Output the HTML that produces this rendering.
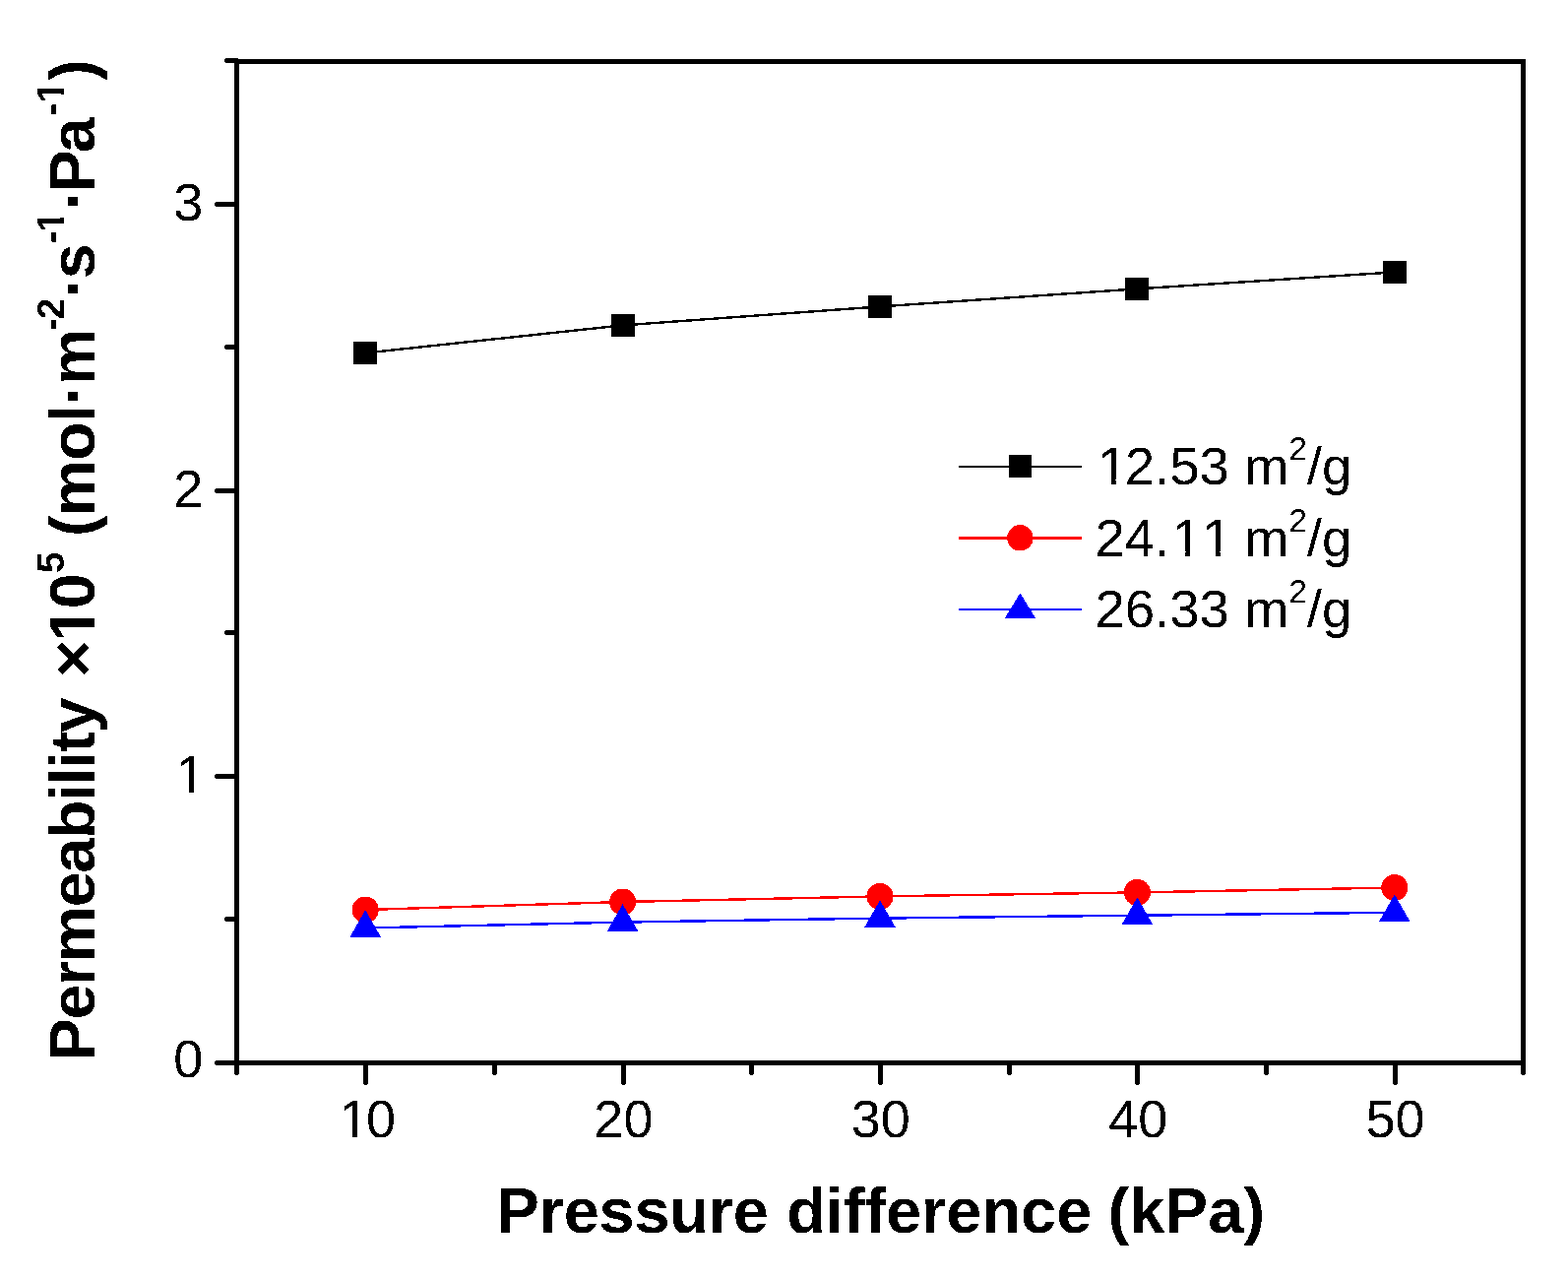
<!DOCTYPE html><html><head><meta charset="utf-8"><title>Permeability vs pressure difference</title>
<style>html,body{margin:0;padding:0;background:#fff;width:1593px;height:1299px;overflow:hidden}svg{display:block}text{font-family:"Liberation Sans",Arial,sans-serif;font-kerning:none;fill:#000}</style></head><body>
<svg width="1593" height="1299" viewBox="0 0 1593 1299">
<defs><clipPath id="c0"><path d="M-3000 -3000H3000V3000H-3000ZM5.10 -4.33H16.01V2.50H5.10ZM20.89 -4.33H31.38V2.50H20.89Z" clip-rule="evenodd"/></clipPath><clipPath id="c1"><path d="M-3000 -3000H3000V3000H-3000ZM5.10 -4.33H16.01V2.50H5.10ZM20.89 -4.33H31.38V2.50H20.89Z" clip-rule="evenodd"/></clipPath><clipPath id="c2"><path d="M-3000 -3000H3000V3000H-3000ZM5.16 -4.37H16.16V2.50H5.16ZM21.08 -4.37H31.66V2.50H21.08Z" clip-rule="evenodd"/></clipPath><clipPath id="c3"><path d="M-3000 -3000H3000V3000H-3000ZM80.92 -4.37H91.92V2.50H80.92ZM96.84 -4.37H107.42V2.50H96.84ZM111.23 -4.37H122.23V2.50H111.23ZM127.15 -4.37H137.73V2.50H127.15Z" clip-rule="evenodd"/></clipPath><clipPath id="c4"><path d="M-3000 -3000H3000V3000H-3000ZM2.56 -6.88H15.00V2.50H2.56ZM23.95 -6.88H35.58V2.50H23.95Z" clip-rule="evenodd"/></clipPath><clipPath id="c5"><path d="M-3000 -3000H3000V3000H-3000ZM0.93 -4.23H8.94V2.50H0.93ZM14.32 -4.23H21.84V2.50H14.32Z" clip-rule="evenodd"/></clipPath><clipPath id="c6"><path d="M-3000 -3000H3000V3000H-3000ZM0.93 -4.23H8.94V2.50H0.93ZM14.32 -4.23H21.84V2.50H14.32Z" clip-rule="evenodd"/></clipPath><filter id="bin" x="0" y="0" width="1593" height="1299" filterUnits="userSpaceOnUse" color-interpolation-filters="sRGB"><feComponentTransfer><feFuncA type="discrete" tableValues="0 1"/></feComponentTransfer></filter></defs>
<rect width="1593" height="1299" fill="#fff"/>
<path d="M220.6 1079.5H240 M220.6 788.5H240 M220.6 498.5H240 M220.6 207.5H240 M230.6 933.5H240 M230.6 642.5H240 M230.6 352.5H240 M230.6 61.5H240 M371.5 1080V1099.6 M633.5 1080V1099.6 M894.5 1080V1099.6 M1155.5 1080V1099.6 M1417.5 1080V1099.6 M502.5 1080V1089.6 M763.5 1080V1089.6 M1025.5 1080V1089.6 M1286.5 1080V1089.6 M240.5 1080V1089.6 M1547.5 1080V1089.6" stroke="#000" stroke-width="5" stroke-linecap="round" fill="none" shape-rendering="crispEdges"/>
<rect x="240.5" y="62.5" width="1307" height="1017" fill="none" stroke="#000" stroke-width="5" shape-rendering="crispEdges"/>
<path d="M371.20 358.50 L632.60 330.40 L894.00 311.40 L1155.40 293.40 L1416.80 276.40" stroke="#000" stroke-width="2.4" fill="none" shape-rendering="crispEdges"/>
<path d="M371.20 924.00 L632.60 916.00 L894.00 910.40 L1155.40 906.40 L1416.80 901.50" stroke="#f00" stroke-width="2.4" fill="none" shape-rendering="crispEdges"/>
<path d="M371.20 942.50 L632.60 936.60 L894.00 932.60 L1155.40 929.70 L1416.80 926.80" stroke="#00f" stroke-width="2.4" fill="none" shape-rendering="crispEdges"/>
<rect x="359.20" y="347.00" width="24" height="23" fill="#000" shape-rendering="crispEdges"/>
<rect x="620.60" y="318.90" width="24" height="23" fill="#000" shape-rendering="crispEdges"/>
<rect x="882.00" y="299.90" width="24" height="23" fill="#000" shape-rendering="crispEdges"/>
<rect x="1143.40" y="281.90" width="24" height="23" fill="#000" shape-rendering="crispEdges"/>
<rect x="1404.80" y="264.90" width="24" height="23" fill="#000" shape-rendering="crispEdges"/>
<circle cx="371.20" cy="924.00" r="13.5" fill="#f00" shape-rendering="crispEdges"/>
<circle cx="632.60" cy="916.00" r="13.5" fill="#f00" shape-rendering="crispEdges"/>
<circle cx="894.00" cy="910.40" r="13.5" fill="#f00" shape-rendering="crispEdges"/>
<circle cx="1155.40" cy="906.40" r="13.5" fill="#f00" shape-rendering="crispEdges"/>
<circle cx="1416.80" cy="901.50" r="13.5" fill="#f00" shape-rendering="crispEdges"/>
<polygon points="371.20,924.17 386.95,951.67 355.45,951.67" fill="#00f" shape-rendering="crispEdges"/>
<polygon points="632.60,918.27 648.35,945.77 616.85,945.77" fill="#00f" shape-rendering="crispEdges"/>
<polygon points="894.00,914.27 909.75,941.77 878.25,941.77" fill="#00f" shape-rendering="crispEdges"/>
<polygon points="1155.40,911.37 1171.15,938.87 1139.65,938.87" fill="#00f" shape-rendering="crispEdges"/>
<polygon points="1416.80,908.47 1432.55,935.97 1401.05,935.97" fill="#00f" shape-rendering="crispEdges"/>
<path d="M974 474H1099" stroke="#000" stroke-width="2" shape-rendering="crispEdges"/>
<path d="M974 546.5H1099" stroke="#f00" stroke-width="3" shape-rendering="crispEdges"/>
<path d="M974 619H1099" stroke="#00f" stroke-width="2" shape-rendering="crispEdges"/>
<rect x="1025" y="462" width="23" height="23" fill="#000" shape-rendering="crispEdges"/>
<circle cx="1036.40" cy="546.30" r="13.2" fill="#f00" shape-rendering="crispEdges"/>
<polygon points="1036.4,602.4 1052,627.8 1020.8,627.8" fill="#00f" shape-rendering="crispEdges"/>
<g filter="url(#bin)">
<g transform="translate(176.27 1094.10)"><text x="0" y="0" font-size="54">0</text></g>
<g transform="translate(176.27 804.80)"><text x="0" y="0" dx="2.48" font-size="54" clip-path="url(#c0)">1</text></g>
<g transform="translate(176.27 514.80)"><text x="0" y="0" font-size="54">2</text></g>
<g transform="translate(176.27 223.80)"><text x="0" y="0" font-size="54">3</text></g>
<g transform="translate(341.97 1155.00)"><text x="0" y="0" dx="2.48 -2.48" font-size="54" clip-path="url(#c1)">10</text></g>
<g transform="translate(603.37 1155.00)"><text x="0" y="0" font-size="54">20</text></g>
<g transform="translate(864.77 1155.00)"><text x="0" y="0" font-size="54">30</text></g>
<g transform="translate(1126.17 1155.00)"><text x="0" y="0" font-size="54">40</text></g>
<g transform="translate(1387.57 1155.00)"><text x="0" y="0" font-size="54">50</text></g>
<g transform="translate(1112.50 491.80)"><text x="0" y="0" dx="2.51 -2.51 0 0 0 0 0" font-size="54.5" clip-path="url(#c2)">12.53 m</text></g>
<g transform="translate(1309.42 467.20)"><text x="0" y="0" font-size="33">2</text></g>
<g transform="translate(1327.78 491.80)"><text x="0" y="0" font-size="54.5">/g</text></g>
<g transform="translate(1112.50 564.90)"><text x="0" y="0" dx="0 0 0 2.51 0 -2.51 0" font-size="54.5" clip-path="url(#c3)">24.11 m</text></g>
<g transform="translate(1309.42 540.30)"><text x="0" y="0" font-size="33">2</text></g>
<g transform="translate(1327.78 564.90)"><text x="0" y="0" font-size="54.5">/g</text></g>
<g transform="translate(1112.50 636.80)"><text x="0" y="0" font-size="54.5">26.33 m</text></g>
<g transform="translate(1309.42 612.20)"><text x="0" y="0" font-size="33">2</text></g>
<g transform="translate(1327.78 636.80)"><text x="0" y="0" font-size="54.5">/g</text></g>
<g transform="translate(504.55 1252.00)"><text x="0" y="0" font-size="65" font-weight="bold" textLength="276.47" lengthAdjust="spacing">Pressure</text></g>
<g transform="translate(799.23 1252.00)"><text x="0" y="0" font-size="65" font-weight="bold" textLength="310.09" lengthAdjust="spacing">difference</text></g>
<g transform="translate(1125.56 1252.00)"><text x="0" y="0" font-size="65" font-weight="bold" textLength="159.57" lengthAdjust="spacing">(kPa)</text></g>
<g transform="translate(96.00 1077.21) rotate(-90)"><text x="0" y="0" font-size="64.5" font-weight="bold" textLength="368.96" lengthAdjust="spacing">Permeability</text></g>
<g transform="translate(96.00 687.71) rotate(-90)"><text x="0" y="0" font-size="64.5" font-weight="bold">×</text></g>
<g transform="translate(96.00 652.01) rotate(-90)"><text x="0" y="0" font-size="64.5" font-weight="bold" textLength="69.75" lengthAdjust="spacing" clip-path="url(#c4)">10</text></g>
<g transform="translate(65.00 581.88) rotate(-90)"><text x="0" y="0" font-size="38.5" font-weight="bold" textLength="20.96" lengthAdjust="spacing">5</text></g>
<g transform="translate(96.00 545.01) rotate(-90)"><text x="0" y="0" font-size="64.5" font-weight="bold" textLength="211.31" lengthAdjust="spacing">(mol·m</text></g>
<g transform="translate(65.00 336.10) rotate(-90)"><text x="0" y="0" font-size="38.5" font-weight="bold">-</text></g>
<g transform="translate(65.00 324.33) rotate(-90)"><text x="0" y="0" font-size="38.5" font-weight="bold">2</text></g>
<g transform="translate(96.00 302.14) rotate(-90)"><text x="0" y="0" font-size="64.5" font-weight="bold" textLength="54.79" lengthAdjust="spacing">·s</text></g>
<g transform="translate(65.00 247.30) rotate(-90)"><text x="0" y="0" font-size="38.5" font-weight="bold">-</text></g>
<g transform="translate(65.00 235.63) rotate(-90)"><text x="0" y="0" font-size="38.5" font-weight="bold" clip-path="url(#c5)">1</text></g>
<g transform="translate(96.00 213.44) rotate(-90)"><text x="0" y="0" font-size="64.5" font-weight="bold" textLength="94.03" lengthAdjust="spacing">·Pa</text></g>
<g transform="translate(65.00 117.50) rotate(-90)"><text x="0" y="0" font-size="38.5" font-weight="bold">-</text></g>
<g transform="translate(65.00 104.43) rotate(-90)"><text x="0" y="0" font-size="38.5" font-weight="bold" clip-path="url(#c6)">1</text></g>
<g transform="translate(96.00 81.86) rotate(-90)"><text x="0" y="0" font-size="64.5" font-weight="bold">)</text></g>
</g>
</svg></body></html>
